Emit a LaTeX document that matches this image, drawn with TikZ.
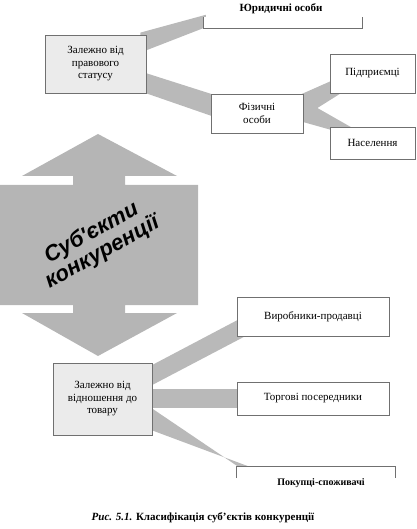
\documentclass[tikz,border=0pt]{standalone}
\usepackage{fontspec}
\setmainfont{Liberation Serif}
\newfontfamily\titlefont{Liberation Sans}
\usetikzlibrary{calc}
\pgfdeclarelayer{bg}
\pgfsetlayers{bg,main}
\definecolor{bandgray}{HTML}{B9B9B9}
\definecolor{arrowgray}{HTML}{B5B5B5}
\definecolor{boxgray}{HTML}{EBEBEB}
\definecolor{edgecol}{HTML}{707070}
\begin{document}
\begin{tikzpicture}[x=1pt,y=1pt,
  box/.style={draw=edgecol, line width=0.8pt, fill=white, inner sep=2pt, align=center,
    font=\fontsize{11}{12.5}\selectfont},
  graybox/.style={box, fill=boxgray},
  openbox/.style={fill=white, inner sep=0pt},
  band/.style={fill=bandgray},
  boldlabel/.style={font=\bfseries\fontsize{11}{13}\selectfont, inner sep=0pt},
  edgeline/.style={draw=edgecol, line width=0.8pt}]
\useasboundingbox (0,0) rectangle (416,-529);

% top (cut) box
\node[openbox, minimum width=158pt, minimum height=11pt] (yur) at (283,-22.5) {};
\node[boldlabel] (yurtxt) at (281,-9) {Юридичні особи};
\draw[edgeline] (yur.north west) -- (yur.south west) -- (yur.south east) -- (yur.north east);

\node[graybox, minimum width=101pt, minimum height=58pt] (pravo) at (95.5,-64)
  {Залежно від\\правового\\статусу};
\node[box, minimum width=92pt, minimum height=39pt] (fiz) at (257,-113.5) {Фізичні\\особи};
\node[box, minimum width=85pt, minimum height=39pt] (pidpr) at (372.5,-73.5) {Підприємці};
\node[box, minimum width=85pt, minimum height=32pt] (nasel) at (372.5,-143) {Населення};

\node[graybox, minimum width=99pt, minimum height=72pt] (vidn) at (102.5,-399)
  {Залежно від\\відношення до\\товару};
\node[box, minimum width=152pt, minimum height=39pt] (vyrob) at (313,-316.5) {Виробники-продавці};
\node[box, minimum width=152pt, minimum height=33pt] (torg) at (313,-398.5) {Торгові посередники};

% bottom (cut) box
\node[openbox, minimum width=158pt, minimum height=11pt] (pokup) at (316,-472.5) {};
\node[boldlabel, font=\bfseries\fontsize{10}{12}\selectfont] (pokuptxt) at (321,-483) {Покупці-споживачі};
\draw[edgeline] (pokup.south west) -- (pokup.north west) -- (pokup.north east) -- (pokup.south east);

% title in the double arrow
\node[font=\titlefont\bfseries\itshape\fontsize{22}{22}\selectfont, rotate=29, align=center,
  inner sep=0pt] (title) at (97,-243) {Суб'єкти\\конкуренції};

% caption
\node[font=\bfseries\fontsize{11}{13}\selectfont, inner sep=0pt] (caption) at (203,-518)
  {\textit{Рис. 5.1.} Класифікація суб’єктів конкуренції};

\begin{pgfonlayer}{bg}
  % double arrow
  \fill[arrowgray] (98,-134) -- (177,-176) -- (125,-176) -- (125,-185) -- (198,-185)
    -- (198,-305) -- (125,-305) -- (125,-313) -- (177,-313) -- (98,-356) -- (22,-313)
    -- (73,-313) -- (73,-305) -- (0,-305) -- (0,-185) -- (73,-185) -- (73,-176)
    -- (22,-176) -- cycle;
  % bands
  \fill[band] ($(pravo.north east)+(-6,2)$) -- ($(yur.north west)+(2,2)$)
    -- ($(yur.south west)+(2,1)$) -- ($(pravo.north east)+(-6,-18)$) -- cycle;
  \fill[band] ($(pravo.east)+(-4,-8)$) -- ($(fiz.west)+(4,18.5)$)
    -- ($(fiz.west)+(4,-3.5)$) -- ($(pravo.east)+(-4,-28)$) -- cycle;
  \fill[band] ($(fiz.east)+(-4,18.5)$) -- ($(pidpr.south west)+(4,13.5)$)
    -- ($(pidpr.south west)+(15,2.5)$) -- ($(fiz.east)+(14,5.5)$)
    -- ($(nasel.north west)+(24,-2)$) -- ($(nasel.north west)+(4,-4)$)
    -- ($(fiz.east)+(-4,-7.5)$) -- cycle;
  \fill[band] ($(vidn.east)+(-4,32)$) -- ($(vyrob.south west)+(4,18)$)
    -- ($(vyrob.south west)+(12,2)$) -- ($(vidn.east)+(-4,12)$) -- cycle;
  \fill[band] ($(vidn.east)+(-4,10)$) -- ($(torg.west)+(4,9.5)$)
    -- ($(torg.west)+(4,-9.5)$) -- ($(vidn.east)+(-4,-9)$) -- cycle;
  \fill[band] ($(vidn.east)+(-4,-7)$) -- ($(pokup.north west)+(6,-3)$)
    -- ($(pokup.north west)+(21,-3)$) -- ($(vidn.east)+(-4,-30)$) -- cycle;
\end{pgfonlayer}
\end{tikzpicture}
\end{document}
